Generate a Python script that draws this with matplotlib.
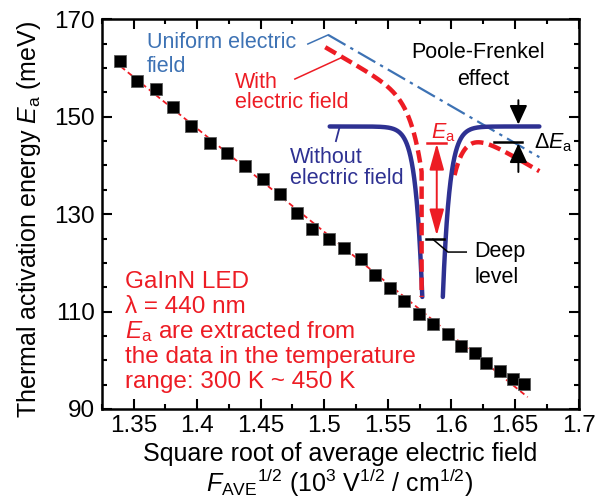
import numpy as np
import matplotlib.pyplot as plt
from matplotlib.ticker import MultipleLocator

plt.rcParams['font.family'] = ['Liberation Sans', 'DejaVu Sans']
plt.rcParams['mathtext.fontset'] = 'custom'
plt.rcParams['mathtext.rm'] = 'Liberation Sans'
plt.rcParams['mathtext.it'] = 'Liberation Sans:italic'
plt.rcParams['mathtext.bf'] = 'Liberation Sans:bold'

# measured points: sqrt(F_AVE) vs activation energy
field_sqrt = [1.3396, 1.3527, 1.3676, 1.3809, 1.3953, 1.4102, 1.4238, 1.4375, 1.4516,
              1.4652, 1.4787, 1.4903, 1.5039, 1.5156, 1.5288, 1.5400, 1.5521, 1.5625,
              1.5745, 1.5855, 1.5973, 1.6078, 1.6182, 1.6274, 1.6386, 1.6483, 1.6575]
activation_energy = [161.5, 157.4, 155.7, 152.1, 148.1, 144.6, 142.6, 139.9, 137.3,
                     134.1, 130.3, 127.0, 125.0, 123.0, 120.7, 117.6, 114.8, 112.2,
                     109.4, 107.4, 105.3, 102.9, 101.4, 99.5, 97.7, 96.1, 95.1]
fit_range = [1.34, 1.66]

x_ticks = [1.35, 1.4, 1.45, 1.5, 1.55, 1.6, 1.65, 1.7]
x_tick_labels = ['1.35', '1.4', '1.45', '1.5', '1.55', '1.6', '1.65', '1.7']
y_ticks = [90, 110, 130, 150, 170]

# schematic of the deep level (drawn in data units)
uniform_start = (1.5031, 166.8)
uniform_end = (1.6692, 141.7)
level_no_field = 148.0
well_bottom = 113.0
well_center, well_depth, well_width = 1.5852, 158.7, 0.00534
red_center, red_depth, red_width = 1.5884, 53.4, 0.00887
red_offset = 2.87

RED = '#ed1c24'
NAVY = '#2e3192'
STEEL = '#3d72b4'

fig = plt.figure(figsize=(6.03, 5.03), dpi=100)
ax = fig.add_axes([0.1687, 0.1869, 0.7907, 0.7747])

coef = np.polyfit(field_sqrt, activation_energy, 1)
fx = np.array(fit_range)
ax.plot(fx, np.polyval(coef, fx), color=RED, lw=1.3, ls=(0, (3, 2)), zorder=2)
ax.plot(field_sqrt, activation_energy, 's', color='black', ms=8, mec='0.35', mew=0.6, zorder=4)

slope = (uniform_end[1] - uniform_start[1]) / (uniform_end[0] - uniform_start[0])
def uniform(x):
    return uniform_start[1] + slope * (x - uniform_start[0])

# uniform field line
ax.plot([uniform_start[0], uniform_end[0]], [uniform_start[1], uniform_end[1]],
        color=STEEL, lw=1.6, ls=(0, (9, 2.5, 1.5, 2.5)), zorder=3)

# without electric field
cut = well_width * np.log(well_depth / (level_no_field - well_bottom))
xl = np.linspace(1.5043, well_center - cut, 300)
xr = np.linspace(well_center + cut, 1.6692, 300)
ax.plot(xl, level_no_field - well_depth * np.exp(-np.abs(xl - well_center) / well_width),
        color=NAVY, lw=3.2, solid_capstyle='round', zorder=5)
ax.plot(xr, level_no_field - well_depth * np.exp(-np.abs(xr - well_center) / well_width),
        color=NAVY, lw=3.2, solid_capstyle='round', zorder=5)

# with electric field
def tilted(x):
    return uniform(x) - red_offset - red_depth * np.exp(-np.abs(x - red_center) / red_width)
xl = np.linspace(1.5008, 1.5766, 300)
yl = tilted(xl)
ax.plot(np.append(xl, 1.5766), np.append(yl, well_bottom), color=RED, lw=3.2,
        ls=(0, (2.8, 1.3)), zorder=6)
xr = np.linspace(1.6025, 1.6692, 200)
ax.plot(xr, tilted(xr), color=RED, lw=3.2, ls=(0, (2.8, 1.3)), zorder=4)

# leaders
ax.plot([1.4871, 1.5031], [164.93, 166.8], color=STEEL, lw=1.1, zorder=3)
ax.plot([1.4769, 1.5146], [157.74, 162.26], color=RED, lw=1.1, zorder=3)
ax.plot([1.5092, 1.5118], [145.0, 147.6], color=NAVY, lw=1.3, zorder=3)
ax.plot([1.5855, 1.5973, 1.6117], [124.83, 122.22, 122.22], color='black', lw=1.1, zorder=7)

# deep level bar and E_a arrow
ax.plot([1.5797, 1.5941], [124.9, 124.9], color='black', lw=1.8, zorder=7)
ax.plot([1.5808, 1.5954], [144.54, 144.54], color=RED, lw=1.8, zorder=7)
ax.annotate('', xy=(1.5885, 144.5), xytext=(1.5885, 125.6),
            arrowprops=dict(arrowstyle='<|-|>,head_length=0.9,head_width=0.25',
                            mutation_scale=18, color=RED, lw=1.4, shrinkA=0, shrinkB=0), zorder=7)

# delta E_a arrows
ax.plot([1.6339, 1.6559], [144.87, 144.87], color='black', lw=1.8, zorder=7)
for tail, tip in [(153.4, 148.4), (138.65, 144.5)]:
    ax.annotate('', xy=(1.6527, tip), xytext=(1.6527, tail),
                arrowprops=dict(arrowstyle='-|>,head_length=0.65,head_width=0.3',
                                mutation_scale=18, color='black', lw=1.4, shrinkA=0, shrinkB=0), zorder=7)

fs_small = 15.5
ax.text(1.3608, 164.1, 'Uniform electric', color=STEEL, fontsize=fs_small)
ax.text(1.3608, 159.2, 'field', color=STEEL, fontsize=fs_small)
ax.text(1.4298, 155.83, 'With', color=RED, fontsize=fs_small)
ax.text(1.4298, 151.72, 'electric field', color=RED, fontsize=fs_small)
ax.text(1.6206, 161.99, 'Poole-Frenkel', ha='center', fontsize=fs_small)
ax.text(1.6253, 156.51, 'effect', ha='center', fontsize=fs_small)
ax.text(1.4730, 140.43, 'Without', color=NAVY, fontsize=fs_small)
ax.text(1.4730, 136.18, 'electric field', color=NAVY, fontsize=fs_small)
ax.text(1.5842, 145.57, r'$E_\mathrm{a}$', color=RED, fontsize=fs_small)
ax.text(1.6653, 143.5, r'Δ$E_\mathrm{a}$', fontsize=fs_small)
ax.text(1.6182, 121.3, 'Deep', fontsize=fs_small)
ax.text(1.6182, 115.79, 'level', fontsize=fs_small)

info_lines = ['GaInN LED', 'λ = 440 nm', r'$E_\mathrm{a}$ are extracted from',
              'the data in the temperature', 'range: 300 K ~ 450 K']
for line, yb in zip(info_lines, [114.89, 109.75, 104.50, 99.36, 94.23]):
    ax.text(1.3435, yb, line, color=RED, fontsize=17.5)

ax.set_xlim(1.325, 1.7)
ax.set_ylim(90, 170)
ax.set_xticks(x_ticks)
ax.set_xticklabels(x_tick_labels)
ax.set_yticks(y_ticks)
ax.xaxis.set_minor_locator(MultipleLocator(0.025))
ax.yaxis.set_minor_locator(MultipleLocator(5))
ax.tick_params(which='both', direction='in', top=True, right=True, width=1.5, labelsize=17.5)
ax.tick_params(which='major', length=7.5)
ax.tick_params(which='minor', length=3.7)
ax.tick_params(axis='x', pad=4.5)
ax.tick_params(axis='y', pad=5)
for s in ax.spines.values():
    s.set_linewidth(1.8)

fig.text(0.048, 0.5646, r'Thermal activation energy $E_\mathrm{a}$ (meV)', rotation=90,
         ha='center', va='center', fontsize=18)
fig.text(0.5638, 0.0835, 'Square root of average electric field', ha='center',
         va='baseline', fontsize=18)
fig.text(0.5638, 0.0219, r'$F_\mathrm{AVE}{}^{1/2}$ (10$^3$ V$^{1/2}$ / cm$^{1/2}$)',
         ha='center', va='baseline', fontsize=18)

fig.savefig('out.png', dpi=100)
